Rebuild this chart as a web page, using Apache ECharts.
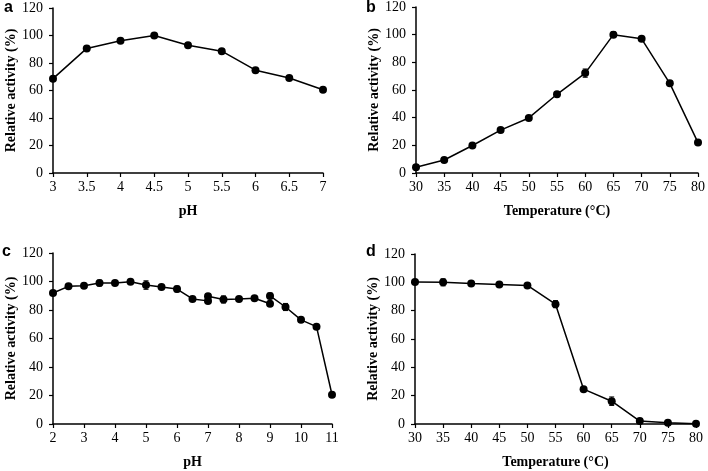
<!DOCTYPE html>
<html>
<head>
<meta charset="utf-8">
<script src="https://cdn.jsdelivr.net/npm/echarts@6/dist/echarts.min.js"></script>
<style>
html,body{margin:0;padding:0;background:#fff;}
#c{width:708px;height:471px;}
</style>
</head>
<body>
<div id="c"></div>
<script>
// Panel a: pH optimum
const phA = [3, 3.5, 4, 4.5, 5, 5.5, 6, 6.5, 7];
const actA = [68.6, 90.6, 96.2, 100, 92.9, 88.6, 74.8, 69.1, 60.5];
const errA = [1, 1.5, 1, 0.8, 1, 1.2, 1, 1, 0.8];

// Panel b: temperature optimum
const tempB = [30, 35, 40, 45, 50, 55, 60, 65, 70, 75, 80];
const actB = [4.1, 9.4, 19.9, 31, 39.8, 56.9, 72.2, 100, 97, 64.8, 22];
const errB = [0.8, 0.8, 0.8, 0.8, 0.8, 1, 3, 2, 1, 1, 0.8];

// Panel c: pH stability (three buffer segments)
const phC1 = [2, 2.5, 3, 3.5, 4, 4.5, 5, 5.5, 6, 6.5, 7];
const actC1 = [91.9, 96.6, 97.0, 98.9, 98.9, 99.8, 97.5, 96.1, 94.7, 87.8, 86.4];
const errC1 = [1, 1, 1, 2, 1, 1, 3, 1.5, 2, 1, 1];
const phC2 = [7, 7.5, 8, 8.5, 9];
const actC2 = [89.6, 87.4, 87.8, 88.3, 84.4];
const errC2 = [1.5, 2.5, 1.5, 1, 1];
const phC3 = [9, 9.5, 10, 10.5, 11];
const actC3 = [89.9, 82.1, 73.1, 68.3, 20.5];
const errC3 = [2, 2.5, 1.5, 1, 1.5];

// Panel d: thermal stability
const tempD = [30, 35, 40, 45, 50, 55, 60, 65, 70, 75, 80];
const actD = [100.2, 100, 99.2, 98.5, 97.8, 84.6, 24.6, 16.1, 2.1, 0.9, 0.2];
const errD = [1, 2.5, 1, 1, 1, 2.5, 1, 3, 1, 0.8, 0.5];

const yTicks = [0, 20, 40, 60, 80, 100, 120];
const yName = 'Relative activity (%)';

const zip = (xs, ys) => xs.map((x, i) => [x, ys[i]]);
const zipErr = (xs, ys, es) => xs.map((x, i) => [x, ys[i], es[i]]);

const chart = echarts.init(document.getElementById('c'), null, {renderer: 'canvas'});

const serif = '"Liberation Serif","Times New Roman",serif';

const grids = [
  {left: 53, top: 8, width: 270, height: 165},
  {left: 416, top: 7, width: 285, height: 166},
  {left: 53, top: 253, width: 279, height: 171},
  {left: 415, top: 254, width: 281, height: 170}
];

const xDefs = [
  {min: 3, max: 7, interval: 0.5, name: 'pH'},
  {min: 30, max: 80, interval: 5, name: 'Temperature (°C)'},
  {min: 2, max: 11, interval: 1, name: 'pH'},
  {min: 30, max: 80, interval: 5, name: 'Temperature (°C)'}
];

const axisLine = {show: true, onZero: false, lineStyle: {color: '#000', width: 1.5}};

const xAxis = xDefs.map((d, i) => ({
  type: 'value', gridIndex: i, min: d.min, max: d.max, interval: d.interval,
  name: d.name, nameLocation: 'middle', nameGap: 31,
  nameTextStyle: {fontFamily: serif, fontWeight: 'bold', fontSize: 14, color: '#000'},
  axisLine: axisLine,
  axisTick: {show: true, length: 4, inside: false, lineStyle: {color: '#000', width: 1.2}},
  axisLabel: {fontFamily: serif, fontSize: 14, color: '#000', margin: 7},
  splitLine: {show: false}
}));

const yAxis = grids.map((g, i) => ({
  type: 'value', gridIndex: i, min: yTicks[0], max: yTicks[yTicks.length - 1],
  interval: yTicks[1] - yTicks[0],
  name: yName, nameLocation: 'middle', nameGap: 34,
  nameTextStyle: {fontFamily: serif, fontWeight: 'bold', fontSize: 14, color: '#000'},
  axisLine: axisLine,
  axisTick: {show: true, length: 4, lineStyle: {color: '#000', width: 1.2}},
  axisLabel: {fontFamily: serif, fontSize: 14, color: '#000', margin: 10},
  splitLine: {show: false}
}));

function lineSeries(i, xs, ys) {
  return {
    type: 'line', xAxisIndex: i, yAxisIndex: i, data: zip(xs, ys),
    symbol: 'circle', symbolSize: 8, showSymbol: true,
    lineStyle: {color: '#000', width: 1.5},
    itemStyle: {color: '#000'},
    animation: false, z: 3
  };
}

function errSeries(i, xs, ys, es) {
  return {
    type: 'custom', xAxisIndex: i, yAxisIndex: i, data: zipErr(xs, ys, es),
    animation: false, z: 4, silent: true,
    renderItem: function (params, api) {
      const x = api.value(0), y = api.value(1), e = api.value(2);
      const hi = api.coord([x, y + e]);
      const lo = api.coord([x, y - e]);
      const cap = 2.5;
      const style = {stroke: '#000', lineWidth: 1};
      return {
        type: 'group',
        children: [
          {type: 'line', shape: {x1: hi[0], y1: hi[1], x2: lo[0], y2: lo[1]}, style: style},
          {type: 'line', shape: {x1: hi[0] - cap, y1: hi[1], x2: hi[0] + cap, y2: hi[1]}, style: style},
          {type: 'line', shape: {x1: lo[0] - cap, y1: lo[1], x2: lo[0] + cap, y2: lo[1]}, style: style}
        ]
      };
    }
  };
}

const series = [
  lineSeries(0, phA, actA), errSeries(0, phA, actA, errA),
  lineSeries(1, tempB, actB), errSeries(1, tempB, actB, errB),
  lineSeries(2, phC1, actC1), errSeries(2, phC1, actC1, errC1),
  lineSeries(2, phC2, actC2), errSeries(2, phC2, actC2, errC2),
  lineSeries(2, phC3, actC3), errSeries(2, phC3, actC3, errC3),
  lineSeries(3, tempD, actD), errSeries(3, tempD, actD, errD)
];

const letterStyle = {fontFamily: '"Liberation Sans",Arial,sans-serif', fontWeight: 'bold', fontSize: 16, fill: '#000'};
const graphic = [
  {type: 'text', left: 4, top: 0, style: Object.assign({text: 'a'}, letterStyle)},
  {type: 'text', left: 366, top: 0, style: Object.assign({text: 'b'}, letterStyle)},
  {type: 'text', left: 2, top: 244, style: Object.assign({text: 'c'}, letterStyle)},
  {type: 'text', left: 366, top: 244, style: Object.assign({text: 'd'}, letterStyle)}
];

chart.setOption({
  backgroundColor: '#fff',
  animation: false,
  grid: grids,
  xAxis: xAxis,
  yAxis: yAxis,
  series: series,
  graphic: graphic
});
</script>
</body>
</html>
